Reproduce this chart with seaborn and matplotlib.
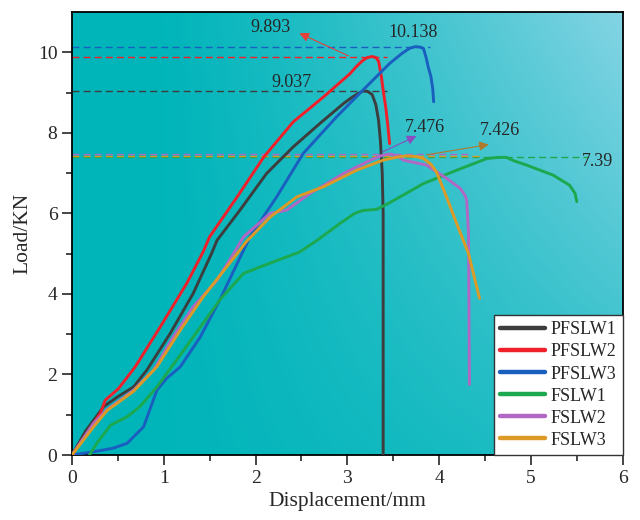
import numpy as np
import pandas as pd
import matplotlib
matplotlib.use("Agg")
import matplotlib.pyplot as plt
import seaborn as sns


# curve data (x = displacement mm, y = load kN)
pfslw1_x = [0, 0.15, 0.344, 0.5, 0.67, 0.816, 1.07, 1.32, 1.52, 1.58, 1.83, 2.12, 2.41, 2.70, 2.96, 3.05, 3.12, 3.17, 3.22, 3.27, 3.31, 3.34, 3.36, 3.38, 3.39, 3.39]
pfslw1_y = [0, 0.6, 1.20, 1.45, 1.69, 2.11, 3.02, 4.01, 5.0, 5.33, 6.08, 6.99, 7.65, 8.23, 8.73, 8.88, 8.98, 9.037, 9.03, 8.95, 8.70, 8.31, 7.80, 7.00, 6.0, 0]

pfslw2_x = [0, 0.15, 0.308, 0.362, 0.507, 0.689, 0.961, 1.25, 1.43, 1.50, 1.80, 2.09, 2.41, 2.74, 3.03, 3.10, 3.17, 3.22, 3.27, 3.31, 3.34, 3.37, 3.39, 3.42, 3.44, 3.46]
pfslw2_y = [0, 0.5, 1.03, 1.36, 1.65, 2.19, 3.18, 4.26, 5.05, 5.42, 6.41, 7.40, 8.27, 8.89, 9.47, 9.65, 9.80, 9.87, 9.893, 9.87, 9.78, 9.40, 9.06, 8.60, 8.20, 7.73]

pfslw3_x = [0, 0.235, 0.45, 0.60, 0.78, 0.925, 1.03, 1.18, 1.40, 1.61, 1.87, 1.94, 2.23, 2.52, 2.88, 3.17, 3.46, 3.60, 3.68, 3.74, 3.79, 3.83, 3.86, 3.88, 3.91, 3.93, 3.94]
pfslw3_y = [0, 0.08, 0.17, 0.29, 0.70, 1.61, 1.90, 2.19, 2.94, 3.85, 5.09, 5.42, 6.41, 7.49, 8.39, 9.06, 9.72, 9.98, 10.10, 10.138, 10.13, 10.09, 9.85, 9.64, 9.40, 9.10, 8.77]

fslw1_x = [0.19, 0.27, 0.42, 0.60, 0.74, 0.925, 1.14, 1.40, 1.61, 1.87, 2.05, 2.48, 2.67, 2.92, 3.08, 3.17, 3.32, 3.45, 3.83, 4.19, 4.52, 4.65, 4.73, 4.82, 4.95, 5.24, 5.42, 5.48, 5.50]
fslw1_y = [0, 0.29, 0.74, 0.95, 1.20, 1.69, 2.36, 3.18, 3.85, 4.51, 4.67, 5.04, 5.33, 5.75, 6.0, 6.07, 6.10, 6.25, 6.74, 7.07, 7.36, 7.39, 7.39, 7.30, 7.20, 6.95, 6.70, 6.50, 6.29]

fslw2_x = [0, 0.235, 0.38, 0.67, 0.89, 1.105, 1.32, 1.58, 1.76, 1.87, 2.16, 2.34, 2.59, 2.96, 3.25, 3.38, 3.46, 3.55, 3.61, 3.86, 4.08, 4.23, 4.28, 4.30, 4.32, 4.33]
fslw2_y = [0, 0.79, 1.12, 1.61, 2.11, 2.94, 3.68, 4.34, 5.0, 5.42, 6.00, 6.08, 6.49, 6.99, 7.32, 7.44, 7.476, 7.42, 7.32, 7.20, 6.87, 6.62, 6.45, 6.33, 5.50, 1.75]

fslw3_x = [0, 0.235, 0.38, 0.67, 0.925, 1.18, 1.43, 1.83, 1.90, 2.16, 2.45, 2.74, 3.10, 3.39, 3.55, 3.64, 3.75, 3.83, 3.91, 3.97, 4.08, 4.19, 4.32, 4.44]
fslw3_y = [0, 0.70, 1.10, 1.58, 2.19, 3.10, 3.93, 5.09, 5.30, 5.91, 6.41, 6.66, 7.07, 7.32, 7.40, 7.426, 7.41, 7.36, 7.22, 7.03, 6.41, 5.75, 5.00, 3.89]

names = ["PFSLW1", "PFSLW2", "PFSLW3", "FSLW1", "FSLW2", "FSLW3"]
colors = ["#3d3d3d", "#f0202a", "#1a5fc0", "#1ba84e", "#b068c4", "#dc9a26"]

# peak loads and where their dashed guide lines end
peaks = [9.037, 9.893, 10.138, 7.39, 7.476, 7.426]
guide_end = [3.43, 3.43, 3.90, 5.62, 4.33, 4.44]

curves = [(pfslw1_x, pfslw1_y), (pfslw2_x, pfslw2_y), (pfslw3_x, pfslw3_y),
          (fslw1_x, fslw1_y), (fslw2_x, fslw2_y), (fslw3_x, fslw3_y)]

rows = []
for name, (xs, ys) in zip(names, curves):
    for i, (xv, yv) in enumerate(zip(xs, ys)):
        rows.append([name, i, xv, yv])
df = pd.DataFrame(rows, columns=["Specimen", "idx", "Displacement", "Load"])

sns.set_style("ticks")
plt.rcParams["font.family"] = ["Liberation Serif", "DejaVu Serif"]

fig, ax = plt.subplots(figsize=(6.4, 5.2), dpi=100)
fig.subplots_adjust(left=0.1125, right=0.973, bottom=0.125, top=0.977)

# gradient background: teal on the left, lighter blue to the upper right
gx = np.linspace(0, 1, 300)
gy = np.linspace(0, 1, 200)
X, Y = np.meshgrid(gx, gy)
wx = np.clip((X - 0.15) / 0.85, 0, 1) ** 1.2
wy = 0.3 + 0.7 * Y
w = (wx * wy)[..., None]
teal = np.array([0, 181, 186]) / 255
light = np.array([132, 212, 228]) / 255
img = teal + (light - teal) * w
ax.imshow(img, extent=[0, 6, 0, 11], origin="lower", aspect="auto", zorder=0)

# dashed guides at peak loads
for pk, xe, c in zip(peaks, guide_end, colors):
    ax.hlines(pk, 0, xe, colors=c, linestyles=(0, (5, 3)), linewidth=1.0, zorder=1)

sns.lineplot(data=df, x="Displacement", y="Load", hue="Specimen", hue_order=names,
             palette=colors, sort=False, estimator=None, units="Specimen",
             linewidth=2.1, ax=ax, zorder=3, solid_joinstyle="round")

ax.set_xlim(0, 6)
ax.set_ylim(0, 11)
ax.set_xticks(range(0, 7))
ax.set_xticks(np.arange(0.5, 6, 1), minor=True)
ax.set_yticks(range(0, 11, 2))
ax.set_yticks(range(1, 11, 2), minor=True)
ax.tick_params(axis="both", which="major", length=7, width=1.2, labelsize=14, direction="out")
ax.tick_params(axis="both", which="minor", length=4, width=1.2, direction="out")
for sp in ax.spines.values():
    sp.set_visible(True)
    sp.set_linewidth(1.3)
    sp.set_color("black")
ax.set_xlabel("Displacement/mm", fontsize=15.5)
ax.set_ylabel("Load/KN", fontsize=15.5)

# peak labels
ax.text(2.16, 10.62, "9.893", fontsize=13, ha="center", va="center")
ax.text(3.72, 10.5, "10.138", fontsize=13, ha="center", va="center")
ax.text(2.39, 9.25, "9.037", fontsize=13, ha="center", va="center")
ax.text(3.84, 8.13, "7.476", fontsize=13, ha="center", va="center")
ax.text(4.66, 8.05, "7.426", fontsize=13, ha="center", va="center")
ax.text(5.73, 7.28, "7.39", fontsize=13, ha="center", va="center")
arrow_kw = dict(arrowstyle="-|>", lw=0.8, mutation_scale=14)
ax.annotate("", xy=(2.45, 10.50), xytext=(3.04, 9.88),
            arrowprops=dict(color="#e8403a", **arrow_kw))
ax.annotate("", xy=(3.78, 7.95), xytext=(3.36, 7.50),
            arrowprops=dict(color="#8a4cc0", **arrow_kw))
ax.annotate("", xy=(4.57, 7.72), xytext=(3.83, 7.44),
            arrowprops=dict(color="#b07a2a", **arrow_kw))

sns.move_legend(ax, "lower right", title=None, frameon=True, fancybox=False,
                fontsize=13, borderaxespad=0, handlelength=2.5, handletextpad=0.3,
                labelspacing=0.28, borderpad=0.35, framealpha=1)
leg = ax.get_legend()
leg.get_frame().set_facecolor("white")
leg.get_frame().set_edgecolor("#333333")
leg.get_frame().set_linewidth(1.0)
for ln in leg.get_lines():
    ln.set_linewidth(3.2)

fig.savefig("out.png", dpi=100)
